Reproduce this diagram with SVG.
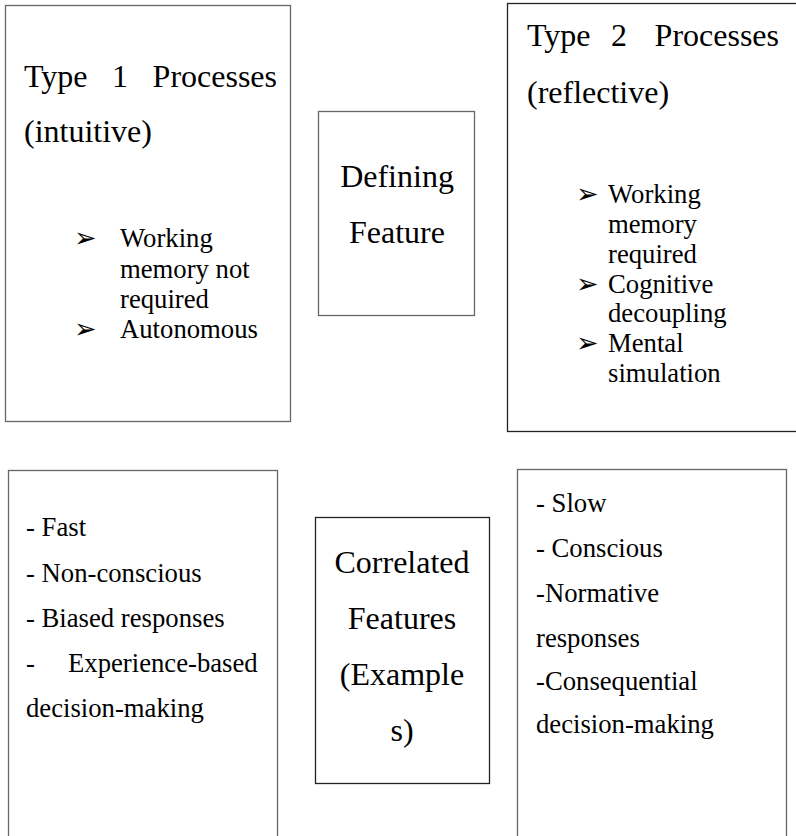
<svg xmlns="http://www.w3.org/2000/svg" width="796" height="836" viewBox="0 0 796 836" font-family="'Liberation Serif', 'DejaVu Serif', 'Noto Serif', serif">
<style>
.box{fill:#fff;stroke:#666;stroke-width:1.3}
.dk{stroke:#222}
text{font-family:'Liberation Serif','DejaVu Serif','Noto Serif',serif;fill:#000}
.t{font-size:32px}
.b{font-size:26.7px}
.l{font-size:26.7px}
.c{font-size:32px;text-anchor:middle}
.e{text-anchor:end}
.a{font-family:'DejaVu Sans',sans-serif;font-size:27px}
</style>
<rect width="796" height="836" fill="#fff"/>
<g id="connectors"></g>
<g id="type1">
<rect class="box" x="5.5" y="5.5" width="285" height="416"/>
<text class="t" x="24" y="87">Type</text>
<text class="t" x="112" y="87">1</text>
<text class="t e" x="277" y="87">Processes</text>
<text class="t" x="24" y="142">(intuitive)</text>
<text class="a" x="74" y="247">➢</text>
<text class="b" x="120" y="247">Working</text>
<text class="b" x="120" y="278">memory not</text>
<text class="b" x="120" y="308">required</text>
<text class="a" x="74" y="338">➢</text>
<text class="b" x="120" y="338">Autonomous</text>
</g>
<g id="defining">
<rect class="box" x="318.5" y="111.5" width="156" height="204"/>
<text class="c" x="397" y="187">Defining</text>
<text class="c" x="397" y="243">Feature</text>
</g>
<g id="type2">
<rect class="box dk" x="507.5" y="3.5" width="292" height="428"/>
<text class="t" x="527" y="46">Type</text>
<text class="t" x="611" y="46">2</text>
<text class="t e" x="779" y="46">Processes</text>
<text class="t" x="527" y="103">(reflective)</text>
<text class="a" x="576" y="203">➢</text>
<text class="b" x="608" y="203">Working</text>
<text class="b" x="608" y="233">memory</text>
<text class="b" x="608" y="263">required</text>
<text class="a" x="576" y="293">➢</text>
<text class="b" x="608" y="293">Cognitive</text>
<text class="b" x="608" y="322">decoupling</text>
<text class="a" x="576" y="352">➢</text>
<text class="b" x="608" y="352">Mental</text>
<text class="b" x="608" y="382">simulation</text>
</g>
<g id="type1-correlated">
<rect class="box" x="8.5" y="470.5" width="269" height="370"/>
<text class="l" x="26" y="536">- Fast</text>
<text class="l" x="26" y="582">- Non-conscious</text>
<text class="l" x="26" y="627">- Biased responses</text>
<text class="l" x="26" y="672">-</text>
<text class="l" x="68" y="672">Experience-based</text>
<text class="l" x="26" y="717">decision-making</text>
</g>
<g id="correlated">
<rect class="box dk" x="315.5" y="517.5" width="174" height="266"/>
<text class="c" x="402" y="573">Correlated</text>
<text class="c" x="402" y="629">Features</text>
<text class="c" x="402" y="685">(Example</text>
<text class="c" x="402" y="741">s)</text>
</g>
<g id="type2-correlated">
<rect class="box" x="517.5" y="469.5" width="269" height="370"/>
<text class="l" x="536" y="512">- Slow</text>
<text class="l" x="536" y="557">- Conscious</text>
<text class="l" x="536" y="602">-Normative</text>
<text class="l" x="536" y="647">responses</text>
<text class="l" x="536" y="690">-Consequential</text>
<text class="l" x="536" y="733">decision-making</text>
</g>
</svg>
